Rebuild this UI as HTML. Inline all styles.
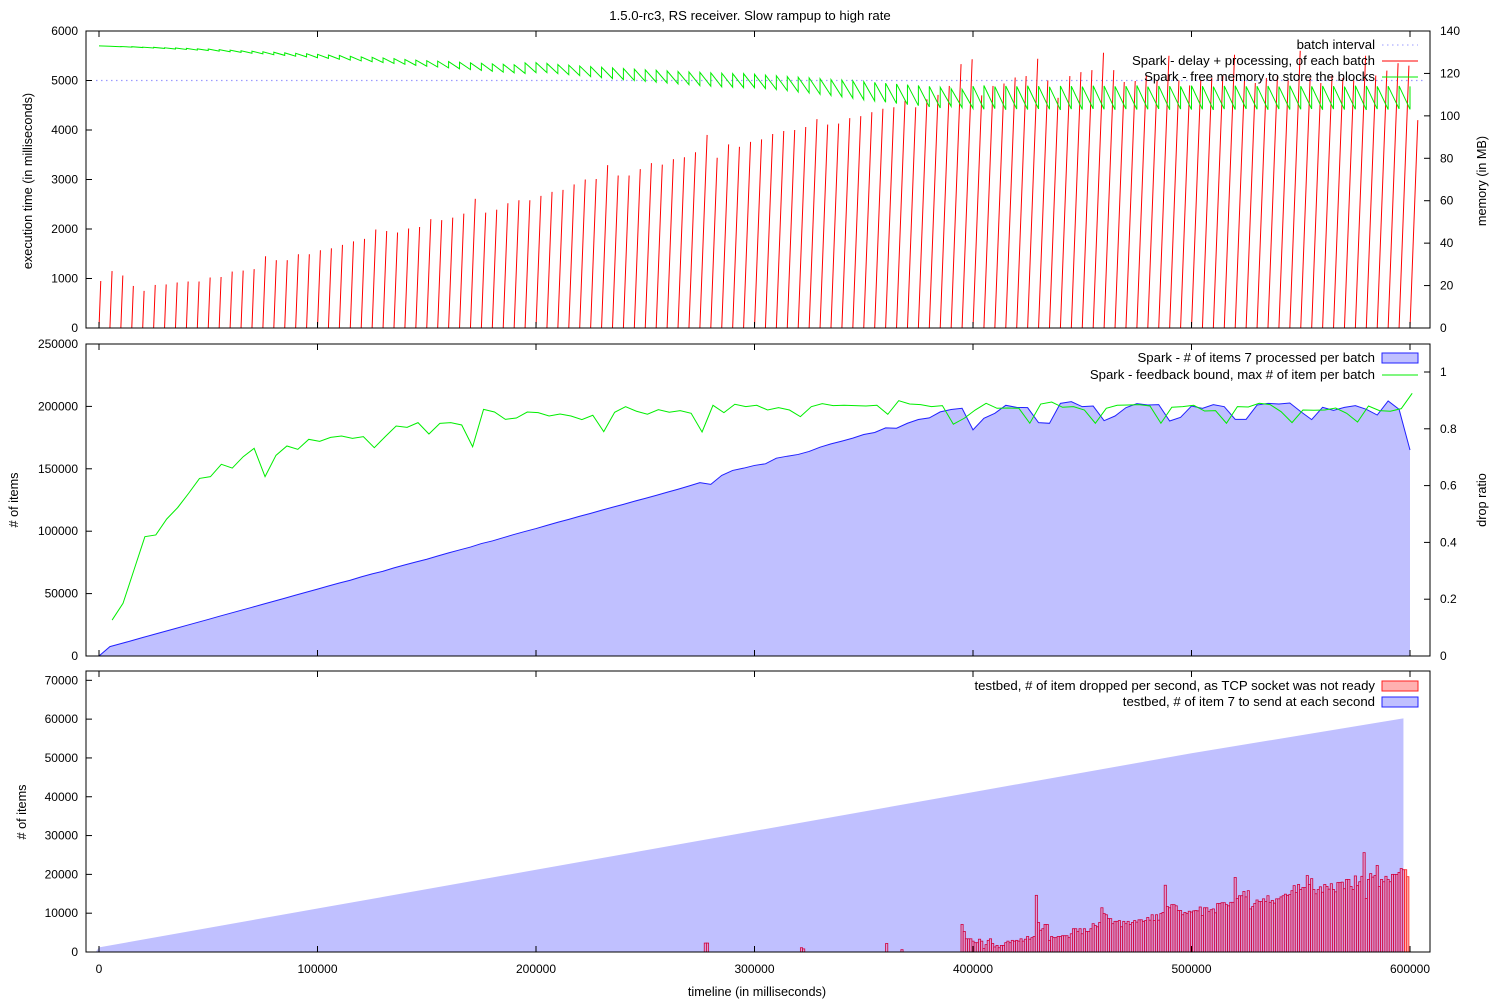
<!DOCTYPE html>
<html><head><meta charset="utf-8"><style>
html,body{margin:0;padding:0;background:#fff}
svg text{font-family:"Liberation Sans",Arial,sans-serif;font-size:12px;fill:#000}
svg text.big{font-size:13.2px}
svg text.ax{font-size:12.7px}
</style></head><body>
<svg id="chart" width="1500" height="999" viewBox="0 0 1500 999" xmlns="http://www.w3.org/2000/svg">
<text class="big" x="750" y="20" text-anchor="middle">1.5.0-rc3, RS receiver. Slow rampup to high rate</text>
<g id="g1"></g>
<g id="g2"></g>
<g id="g3"></g>
<g id="gx"></g>
</svg>
<script>
// ---- data ----
const batchMs = 5000;
const delayPeaks = [950,1150,1060,850,750,870,880,920,940,940,1020,1030,1140,1160,1190,1450,1370,1370,1490,1490,1570,1610,1680,1750,1800,1990,1960,1930,2010,2040,2200,2180,2230,2310,2610,2330,2390,2520,2580,2580,
2670,2750,2790,2900,3000,3010,3290,3080,3080,3210,3330,3300,3410,3450,3550,3900,3440,3710,3660,3760,3810,3920,3980,4000,4060,4220,4110,4130,4240,4280,4360,4430,4460,4590,4460,4620,4710,4890,5330,5430,
4700,4890,4940,5060,5090,5440,5000,4650,5090,5170,5210,5560,5210,4970,4990,5100,5000,5500,5000,4900,5000,5050,5100,5520,5000,4950,5050,5100,5000,5600,5050,4950,5100,5050,5000,5500,5100,5200,5350,5300,4200];
const memTop = [133.0,132.8,132.7,132.6,132.4,132.3,132.1,132.0,131.8,131.6,131.5,131.2,131.0,130.7,130.5,130.2,130.0,129.7,129.5,129.3,129.0,128.7,128.5,128.1,127.8,127.6,127.3,127.0,126.6,126.3,126.0,125.8,125.6,125.3,125.0,124.8,124.5,124.3,124.1,125.0,
125.1,124.7,124.2,123.9,123.5,123.2,122.9,122.6,122.3,122.0,121.7,121.5,121.2,120.9,120.7,120.5,120.3,120.1,119.9,119.9,119.6,119.2,118.9,118.5,118.2,117.9,117.5,117.1,116.8,116.5,116.1,115.8,115.4,115.0,114.7,114.3,113.9,113.5,112.8,112.5,
114.0,114.3,113.8,114.1,113.9,114.2,114.0,113.7,114.1,114.0,113.8,114.2,114.1,113.9,114.0,114.3,113.8,114.1,114.0,113.9,114.2,114.0,113.8,114.1,114.2,113.9,114.0,114.1,113.8,114.2,114.0,113.9,114.1,114.0,113.8,114.2,114.1,113.9,114.0,114.1,113.9];
const memBottom = [132.8,132.6,132.4,132.2,132.0,131.8,131.5,131.3,131.0,130.8,130.5,130.2,129.9,129.5,129.2,128.8,128.5,128.1,127.8,127.4,127.1,126.7,126.3,125.9,125.5,125.1,124.7,124.3,123.8,123.4,123.0,122.6,122.2,121.8,121.4,121.0,120.6,120.3,120.0,120.4,
120.4,119.9,119.4,119.0,118.5,118.0,117.6,117.1,116.7,116.3,115.9,115.5,115.1,114.7,114.3,114.0,113.7,113.5,113.3,113.3,112.9,112.4,111.9,111.3,110.8,110.2,109.6,109.0,108.3,107.6,107.0,106.4,105.8,105.3,104.8,104.2,103.7,104.5,103.9,103.5,
103.1,103.4,102.9,103.2,103.0,103.3,103.1,102.8,103.2,103.0,103.3,103.1,102.9,103.2,103.0,103.1,103.3,102.9,103.2,103.0,103.1,102.8,103.2,103.0,103.3,103.1,102.9,103.2,103.0,103.1,103.3,102.9,103.2,103.0,103.1,102.8,103.2,103.0,103.3,103.1,103.0];
const batchIntervalMs = 5000;
const processedItems = [0,7500,9900,12300,14800,17200,19600,22000,24500,26900,29300,31800,34200,36600,39000,41500,43900,46300,48800,51200,53600,56100,58500,60700,63400,65800,67900,70600,73000,75300,77500,80100,82600,85000,87300,90100,92200,94800,97400,99800,102100,
104700,107200,109500,112000,114300,116800,119200,121500,124000,126300,128700,131200,133600,136200,138900,137500,
144700,148700,150500,152700,154000,158500,160100,161500,163900,167300,170000,172200,174600,177500,179100,182800,182500,186500,189500,190800,195600,197500,198500,181200,
190450,194450,200850,199250,199000,186950,186450,202450,203800,199800,200300,188550,192300,199000,202200,201100,201400,188300,191250,200300,198450,201400,199800,189650,189650,201100,202450,201900,202700,195800,189400,199250,196850,199250,200600,197650,193100,204350,197650,165050];
const feedbackStartMs = 6000;
const feedbackBound = [28800,42200,68900,95600,97000,109800,118900,130300,142300,143700,153600,150600,159700,166400,143700,160800,168300,165600,173600,172000,175200,176300,174400,175800,166900,175800,184300,183200,187000,177900,186400,187000,185100,167700,197600,195500,189600,190700,195500,195000,
192300,193900,192300,189400,192900,179800,195300,199800,196100,193700,197400,195300,196600,194500,179500,200900,195000,201700,199800,200900,197100,199000,197100,191800,199800,202200,200600,200900,200600,200300,200900,193700,204600,201900,201400,
199800,200600,185700,190500,197100,202500,198500,198700,198500,186500,201900,203500,199300,199800,197100,186500,198500,200900,201100,201400,200300,186500,199300,199800,200900,196300,196600,186500,199800,199500,202500,201400,195800,187000,197100,196900,197100,198700,194500,187500,200300,196600,196100,198200,210500];
const sendTimes = [0,100000,200000,300000,400000,500000,597000];
const sendValues = [1200,11200,21200,31200,41200,51200,60200];
const earlyDropTimes = [277000,278000,321000,322000,360000,367000];
const earlyDropValues = [2300,2300,1100,800,2200,600];
const dropStartMs = 394500;
const droppedPerSec = [7100,5300,3400,3400,3400,2800,2400,2400,3300,2800,900,1900,3000,3400,2200,1300,1700,1100,1700,1700,2400,2800,2400,3000,2800,3000,2800,3400,2800,3300,4000,3300,3700,4000,14600,7600,5600,6000,7100,7100,3000,4000,3700,3700,4000,4000,4200,4200,4200,3700,4700,6000,6000,5300,6000,4700,6000,5300,5300,6000,7300,6800,6500,7600,11400,9900,9600,8600,8600,7300,7900,7900,8100,6500,7900,7300,7900,7100,7600,8100,7700,8300,8300,7900,8100,8900,8200,9600,8100,9600,8200,9900,10200,17200,11700,11400,12200,12200,11900,10700,10700,9600,10200,9900,10500,
10300,10600,10700,10600,11600,9400,11400,11400,10400,10900,11100,10100,12500,12500,12700,12700,12200,11900,12800,12800,19200,13800,14500,14500,15600,14200,15800,11100,11700,12500,13400,13000,13000,13700,13000,14500,12800,13300,12600,13700,13700,14200,14500,14900,14600,14800,15800,17100,15300,17400,16100,16600,16600,19700,17400,18900,16100,15000,16100,16800,15400,17400,16900,16200,17600,16100,15500,17900,17900,18000,16300,18700,18700,16900,16100,19600,17100,18100,19500,25600,13800,18700,20200,19300,19700,22300,16900,18700,18100,19500,18700,18100,20000,20000,20000,20500,21500,21200,21200,19400];
const xTicks = [0,100000,200000,300000,400000,500000,600000];
const y1Ticks = [0,1000,2000,3000,4000,5000,6000];
const y1rTicks = [0,20,40,60,80,100,120,140];
const y2Ticks = [0,50000,100000,150000,200000,250000];
const y2rTicks = [0,0.2,0.4,0.6,0.8,1];
const y3Ticks = [0,10000,20000,30000,40000,50000,60000,70000];

// ---- axes ----
const L=86,R=1430;
const P1={t:31,b:328},P2={t:344,b:656},P3={t:671,b:952};
const X=t=>99+t*1311/600000;
const Y1=v=>P1.b-v*297/6000;
const Y1r=v=>P1.b-v*297/140;
const Y2=v=>P2.b-v*312/250000;
const Y2r=v=>P2.b-v*284;
const Y3=v=>P3.b-v*281/72400;
const NS='http://www.w3.org/2000/svg';
function mk(p,tag,attrs){const e=document.createElementNS(NS,tag);for(const k in attrs)e.setAttribute(k,attrs[k]);p.appendChild(e);return e;}
const g1=document.getElementById('g1'),g2=document.getElementById('g2'),g3=document.getElementById('g3'),gx=document.getElementById('gx');

let e;
e=mk(g1,'line',{x1:96,x2:1425,y1:Y1(batchIntervalMs),y2:Y1(batchIntervalMs),stroke:'#9a9aff','stroke-width':1.2,'stroke-dasharray':'1.5,3.5'});


let d='';
for(let i=0;i<delayPeaks.length;i++){const t=i*batchMs;d+=`M${X(t)},${P1.b}L${X(t+delayPeaks[i]*0.85)},${Y1(delayPeaks[i])}`;}
e=mk(g1,'path',{d:d,stroke:'#ff0000','stroke-width':1,fill:'none'});


d='';
for(let i=0;i<memTop.length;i++){const t=i*batchMs;d+=(i?'L':'M')+X(t)+','+Y1r(memTop[i])+'L'+X(Math.min(t+batchMs,600000))+','+Y1r(memBottom[i]);}
e=mk(g1,'path',{d:d,stroke:'#00ee00','stroke-width':1,fill:'none'});



let pts=processedItems.map((v,i)=>X(i*batchMs)+','+Y2(v));
e=mk(g2,'polygon',{points:X(0)+','+P2.b+' '+pts.join(' ')+' '+X((processedItems.length-1)*batchMs)+','+P2.b,fill:'#c0c0ff',stroke:'none'});


e=mk(g2,'polyline',{points:pts.join(' '),fill:'none',stroke:'#2020ff','stroke-width':1});


e=mk(g2,'polyline',{points:feedbackBound.map((v,i)=>X(feedbackStartMs+i*batchMs)+','+Y2(v)).join(' '),fill:'none',stroke:'#00ee00','stroke-width':1});



e=mk(g3,'polygon',{points:X(-1500)+','+P3.b+' '+sendTimes.map((t,i)=>X(t)+','+Y3(sendValues[i])).join(' ')+' '+X(sendTimes[sendTimes.length-1])+','+P3.b,fill:'#c0c0ff',stroke:'none'});


const bw=1000*1311/600000;
earlyDropTimes.forEach((t,i)=>{
 const r=mk(g3,'rect',{x:X(t),y:Y3(earlyDropValues[i]),width:bw,height:P3.b-Y3(earlyDropValues[i]),fill:'#d8a0d8',stroke:'#d0003c','stroke-width':0.8});
 
 
});
droppedPerSec.forEach((v,i)=>{
 const t=dropStartMs+i*1000;
 const r=mk(g3,'rect',{x:X(t),y:Y3(v),width:bw,height:P3.b-Y3(v),fill:t>597000?'#ffb0b0':'#d8a0d8',stroke:t>597000?'#ff2020':'#d0003c','stroke-width':0.8});
 
 
});

function frame(P){const r=mk(gx,'rect',{x:L,y:P.t,width:R-L,height:P.b-P.t,fill:'none',stroke:'#000','stroke-width':1});
 xTicks.forEach(t=>{mk(gx,'line',{x1:X(t),x2:X(t),y1:P.b,y2:P.b-6,stroke:'#000'});mk(gx,'line',{x1:X(t),x2:X(t),y1:P.t,y2:P.t+6,stroke:'#000'});});}
[P1,P2,P3].forEach(frame);
function lt(v,y,txt){mk(gx,'line',{x1:L,x2:L+6,y1:y,y2:y,stroke:'#000'});const t=mk(gx,'text',{x:L-8,y:y+4,'text-anchor':'end'});t.textContent=txt;}
function rt(v,y,txt){mk(gx,'line',{x1:R-6,x2:R,y1:y,y2:y,stroke:'#000'});const t=mk(gx,'text',{x:R+10,y:y+4,'text-anchor':'start'});t.textContent=txt;}
y1Ticks.forEach(v=>lt(v,Y1(v),String(v)));
y1rTicks.forEach(v=>rt(v,Y1r(v),String(v)));
y2Ticks.forEach(v=>lt(v,Y2(v),String(v)));
y2rTicks.forEach(v=>rt(v,Y2r(v),String(v)));
y3Ticks.forEach(v=>lt(v,Y3(v),String(v)));
xTicks.forEach(t=>{const e=mk(gx,'text',{x:X(t),y:973,'text-anchor':'middle'});e.textContent=String(t);});
function lbl(x,y,rot,txt,name){const e=mk(gx,'text',{x:x,y:y,'text-anchor':'middle','class':'ax',transform:`rotate(${rot} ${x} ${y})`});e.textContent=txt;}
lbl(757,996,0,'timeline (in milliseconds)','x-axis-title');
lbl(32,181,-90,'execution time (in milliseconds)','y-axis-title-top');
lbl(1486,181,-90,'memory (in MB)','y2-axis-title-top');
lbl(18,500,-90,'# of items','y-axis-title-middle');
lbl(1486,500,-90,'drop ratio','y2-axis-title-middle');
lbl(26,812,-90,'# of items','y-axis-title-bottom');

function ltxt(y,txt){const e=mk(gx,'text',{x:1375,y:y+4,'text-anchor':'end','class':'big'});e.textContent=txt;}
ltxt(45,'batch interval');mk(gx,'line',{x1:1382,x2:1418,y1:45,y2:45,stroke:'#9a9aff','stroke-dasharray':'1.5,3.5'});
ltxt(61,'Spark - delay + processing, of each batch');mk(gx,'line',{x1:1382,x2:1418,y1:61,y2:61,stroke:'#ff0000'});
ltxt(77,'Spark - free memory to store the blocks');mk(gx,'line',{x1:1382,x2:1418,y1:77,y2:77,stroke:'#00ee00'});
ltxt(358,'Spark - # of items 7 processed per batch');mk(gx,'rect',{x:1382,y:353,width:36,height:10,fill:'#c0c0ff',stroke:'#2020ff'});
ltxt(375,'Spark - feedback bound, max # of item per batch');mk(gx,'line',{x1:1382,x2:1418,y1:375,y2:375,stroke:'#00ee00'});
ltxt(686,'testbed, # of item dropped per second, as TCP socket was not ready');mk(gx,'rect',{x:1382,y:681,width:36,height:10,fill:'#ffb0b0',stroke:'#ff2020'});
ltxt(702,'testbed, # of item 7 to send at each second');mk(gx,'rect',{x:1382,y:697,width:36,height:10,fill:'#c0c0ff',stroke:'#2020ff'});
</script>
</body></html>
